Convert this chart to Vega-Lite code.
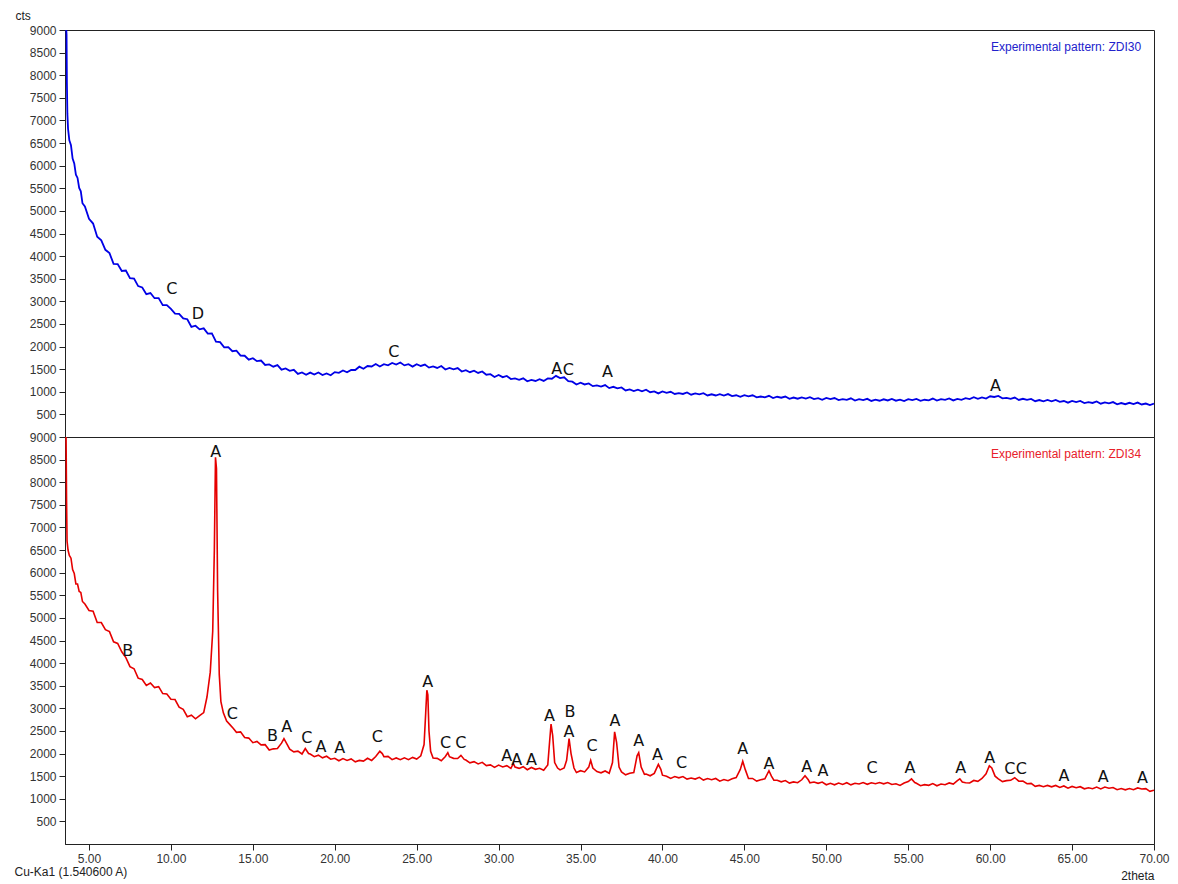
{
"$schema": "https://vega.github.io/schema/vega-lite/v6.json",
"padding": {"left": 14, "top": 8, "right": 10, "bottom": 2},
"background": "white",
"bounds": "flush",
"title": {"text": "Cu-Ka1 (1.540600 A)", "orient": "bottom", "anchor": "start", "offset": -15, "font": "Liberation Sans", "fontSize": 12, "fontWeight": "normal", "color": "#222"},
"config": {
 "view": {"stroke": "#222", "strokeWidth": 1},
 "concat": {"spacing": 0},
 "axis": {"labelFont": "Liberation Sans", "labelFontSize": 12, "labelColor": "#333", "titleFont": "Liberation Sans", "titleFontSize": 12, "titleFontWeight": "normal", "titleColor": "#222", "grid": false, "domainColor": "#222", "tickColor": "#222", "tickSize": 6, "labelPadding": 3, "labelOverlap": false},
 "legend": {"orient": "none", "title": null, "symbolSize": 0, "symbolOpacity": 0, "symbolStrokeWidth": 0, "labelOffset": 0, "padding": 0, "labelFont": "Liberation Sans", "labelFontSize": 12, "labelBaseline": "top"}
},
"resolve": {"scale": {"color": "independent"}},
"datasets": {
"zdi30": [
{"theta":3.56,"cts":9300},{"theta":3.63,"cts":8900},{"theta":3.65,"cts":7850},{"theta":3.68,"cts":7150},{"theta":3.72,"cts":6820},{"theta":3.8,"cts":6560},{"theta":3.9,"cts":6450},{"theta":4.0,"cts":6158},{"theta":4.1,"cts":6051},{"theta":4.2,"cts":5800},{"theta":4.3,"cts":5729},{"theta":4.4,"cts":5506},{"theta":4.5,"cts":5433},{"theta":4.6,"cts":5169},{"theta":4.75,"cts":5097},{"theta":5.0,"cts":4825},{"theta":5.25,"cts":4720},{"theta":5.5,"cts":4427},{"theta":5.75,"cts":4348},{"theta":6.0,"cts":4139},{"theta":6.25,"cts":4066},{"theta":6.5,"cts":3830},{"theta":6.75,"cts":3824},{"theta":7.0,"cts":3671},{"theta":7.25,"cts":3682},{"theta":7.5,"cts":3512},{"theta":7.75,"cts":3505},{"theta":8.0,"cts":3337},{"theta":8.25,"cts":3307},{"theta":8.5,"cts":3160},{"theta":8.75,"cts":3184},{"theta":9.0,"cts":3069},{"theta":9.25,"cts":3070},{"theta":9.5,"cts":2916},{"theta":9.75,"cts":2916},{"theta":10.0,"cts":2832},{"theta":10.25,"cts":2730},{"theta":10.5,"cts":2722},{"theta":10.75,"cts":2623},{"theta":11.0,"cts":2604},{"theta":11.25,"cts":2435},{"theta":11.5,"cts":2461},{"theta":11.75,"cts":2381},{"theta":12.0,"cts":2403},{"theta":12.25,"cts":2288},{"theta":12.5,"cts":2290},{"theta":12.75,"cts":2110},{"theta":13.0,"cts":2097},{"theta":13.25,"cts":1981},{"theta":13.5,"cts":1987},{"theta":13.75,"cts":1896},{"theta":14.0,"cts":1910},{"theta":14.25,"cts":1801},{"theta":14.5,"cts":1797},{"theta":14.75,"cts":1710},{"theta":15.0,"cts":1743},{"theta":15.25,"cts":1677},{"theta":15.5,"cts":1691},{"theta":15.75,"cts":1593},{"theta":16.0,"cts":1604},{"theta":16.25,"cts":1555},{"theta":16.5,"cts":1590},{"theta":16.75,"cts":1489},{"theta":17.0,"cts":1516},{"theta":17.25,"cts":1463},{"theta":17.5,"cts":1487},{"theta":17.75,"cts":1395},{"theta":18.0,"cts":1428},{"theta":18.25,"cts":1377},{"theta":18.5,"cts":1424},{"theta":18.75,"cts":1381},{"theta":19.0,"cts":1425},{"theta":19.25,"cts":1369},{"theta":19.5,"cts":1405},{"theta":19.75,"cts":1365},{"theta":20.0,"cts":1435},{"theta":20.25,"cts":1418},{"theta":20.5,"cts":1472},{"theta":20.75,"cts":1432},{"theta":21.0,"cts":1484},{"theta":21.25,"cts":1482},{"theta":21.5,"cts":1555},{"theta":21.75,"cts":1508},{"theta":22.0,"cts":1569},{"theta":22.25,"cts":1560},{"theta":22.5,"cts":1613},{"theta":22.75,"cts":1560},{"theta":23.0,"cts":1612},{"theta":23.25,"cts":1585},{"theta":23.5,"cts":1636},{"theta":23.75,"cts":1601},{"theta":24.0,"cts":1647},{"theta":24.25,"cts":1584},{"theta":24.5,"cts":1610},{"theta":24.75,"cts":1557},{"theta":25.0,"cts":1610},{"theta":25.25,"cts":1571},{"theta":25.5,"cts":1602},{"theta":25.75,"cts":1534},{"theta":26.0,"cts":1559},{"theta":26.25,"cts":1527},{"theta":26.5,"cts":1570},{"theta":26.75,"cts":1493},{"theta":27.0,"cts":1529},{"theta":27.25,"cts":1495},{"theta":27.5,"cts":1523},{"theta":27.75,"cts":1447},{"theta":28.0,"cts":1477},{"theta":28.25,"cts":1433},{"theta":28.5,"cts":1466},{"theta":28.75,"cts":1416},{"theta":29.0,"cts":1450},{"theta":29.25,"cts":1377},{"theta":29.5,"cts":1390},{"theta":29.75,"cts":1327},{"theta":30.0,"cts":1370},{"theta":30.25,"cts":1323},{"theta":30.5,"cts":1350},{"theta":30.75,"cts":1281},{"theta":31.0,"cts":1295},{"theta":31.25,"cts":1265},{"theta":31.5,"cts":1298},{"theta":31.75,"cts":1231},{"theta":32.0,"cts":1262},{"theta":32.25,"cts":1239},{"theta":32.5,"cts":1279},{"theta":32.75,"cts":1240},{"theta":33.0,"cts":1296},{"theta":33.25,"cts":1289},{"theta":33.5,"cts":1352},{"theta":33.75,"cts":1303},{"theta":34.0,"cts":1320},{"theta":34.25,"cts":1237},{"theta":34.5,"cts":1224},{"theta":34.75,"cts":1160},{"theta":35.0,"cts":1199},{"theta":35.25,"cts":1162},{"theta":35.5,"cts":1185},{"theta":35.75,"cts":1124},{"theta":36.0,"cts":1141},{"theta":36.25,"cts":1113},{"theta":36.5,"cts":1148},{"theta":36.75,"cts":1081},{"theta":37.0,"cts":1110},{"theta":37.25,"cts":1076},{"theta":37.5,"cts":1096},{"theta":37.75,"cts":1030},{"theta":38.0,"cts":1054},{"theta":38.25,"cts":1017},{"theta":38.5,"cts":1048},{"theta":38.75,"cts":1010},{"theta":39.0,"cts":1045},{"theta":39.25,"cts":990},{"theta":39.5,"cts":1009},{"theta":39.75,"cts":964},{"theta":40.0,"cts":1009},{"theta":40.25,"cts":977},{"theta":40.5,"cts":999},{"theta":40.75,"cts":952},{"theta":41.0,"cts":970},{"theta":41.25,"cts":952},{"theta":41.5,"cts":985},{"theta":41.75,"cts":935},{"theta":42.0,"cts":964},{"theta":42.25,"cts":943},{"theta":42.5,"cts":968},{"theta":42.75,"cts":919},{"theta":43.0,"cts":945},{"theta":43.25,"cts":918},{"theta":43.5,"cts":947},{"theta":43.75,"cts":918},{"theta":44.0,"cts":949},{"theta":44.25,"cts":905},{"theta":44.5,"cts":923},{"theta":44.75,"cts":887},{"theta":45.0,"cts":926},{"theta":45.25,"cts":899},{"theta":45.5,"cts":922},{"theta":45.75,"cts":876},{"theta":46.0,"cts":895},{"theta":46.25,"cts":878},{"theta":46.5,"cts":911},{"theta":46.75,"cts":861},{"theta":47.0,"cts":890},{"theta":47.25,"cts":869},{"theta":47.5,"cts":894},{"theta":47.75,"cts":846},{"theta":48.0,"cts":873},{"theta":48.25,"cts":847},{"theta":48.5,"cts":877},{"theta":48.75,"cts":849},{"theta":49.0,"cts":881},{"theta":49.25,"cts":838},{"theta":49.5,"cts":858},{"theta":49.75,"cts":822},{"theta":50.0,"cts":863},{"theta":50.25,"cts":837},{"theta":50.5,"cts":862},{"theta":50.75,"cts":817},{"theta":51.0,"cts":837},{"theta":51.25,"cts":821},{"theta":51.5,"cts":856},{"theta":51.75,"cts":807},{"theta":52.0,"cts":837},{"theta":52.25,"cts":817},{"theta":52.5,"cts":844},{"theta":52.75,"cts":797},{"theta":53.0,"cts":826},{"theta":53.25,"cts":802},{"theta":53.5,"cts":834},{"theta":53.75,"cts":808},{"theta":54.0,"cts":843},{"theta":54.25,"cts":803},{"theta":54.5,"cts":826},{"theta":54.75,"cts":793},{"theta":55.0,"cts":836},{"theta":55.25,"cts":814},{"theta":55.5,"cts":842},{"theta":55.75,"cts":801},{"theta":56.0,"cts":824},{"theta":56.25,"cts":811},{"theta":56.5,"cts":850},{"theta":56.75,"cts":804},{"theta":57.0,"cts":838},{"theta":57.25,"cts":822},{"theta":57.5,"cts":852},{"theta":57.75,"cts":809},{"theta":58.0,"cts":842},{"theta":58.25,"cts":823},{"theta":58.5,"cts":860},{"theta":58.75,"cts":840},{"theta":59.0,"cts":880},{"theta":59.25,"cts":846},{"theta":59.5,"cts":876},{"theta":59.75,"cts":850},{"theta":60.0,"cts":900},{"theta":60.25,"cts":885},{"theta":60.5,"cts":907},{"theta":60.75,"cts":855},{"theta":61.0,"cts":867},{"theta":61.25,"cts":844},{"theta":61.5,"cts":873},{"theta":61.75,"cts":819},{"theta":62.0,"cts":845},{"theta":62.25,"cts":821},{"theta":62.5,"cts":843},{"theta":62.75,"cts":792},{"theta":63.0,"cts":817},{"theta":63.25,"cts":789},{"theta":63.5,"cts":818},{"theta":63.75,"cts":789},{"theta":64.0,"cts":820},{"theta":64.25,"cts":776},{"theta":64.5,"cts":796},{"theta":64.75,"cts":759},{"theta":65.0,"cts":799},{"theta":65.25,"cts":772},{"theta":65.5,"cts":796},{"theta":65.75,"cts":751},{"theta":66.0,"cts":770},{"theta":66.25,"cts":753},{"theta":66.5,"cts":787},{"theta":66.75,"cts":737},{"theta":67.0,"cts":767},{"theta":67.25,"cts":746},{"theta":67.5,"cts":772},{"theta":67.75,"cts":724},{"theta":68.0,"cts":751},{"theta":68.25,"cts":725},{"theta":68.5,"cts":756},{"theta":68.75,"cts":728},{"theta":69.0,"cts":761},{"theta":69.25,"cts":719},{"theta":69.5,"cts":740},{"theta":69.75,"cts":705},{"theta":70.0,"cts":738}
],
"zdi34": [
{"theta":3.56,"cts":9400},{"theta":3.6,"cts":9000},{"theta":3.63,"cts":7600},{"theta":3.66,"cts":6700},{"theta":3.72,"cts":6500},{"theta":3.8,"cts":6380},{"theta":3.9,"cts":6320},{"theta":4.0,"cts":6068},{"theta":4.1,"cts":5981},{"theta":4.2,"cts":5750},{"theta":4.3,"cts":5749},{"theta":4.4,"cts":5586},{"theta":4.5,"cts":5563},{"theta":4.6,"cts":5364},{"theta":4.75,"cts":5307},{"theta":5.0,"cts":5165},{"theta":5.25,"cts":5150},{"theta":5.5,"cts":4897},{"theta":5.75,"cts":4898},{"theta":6.0,"cts":4739},{"theta":6.25,"cts":4696},{"theta":6.5,"cts":4470},{"theta":6.75,"cts":4434},{"theta":7.0,"cts":4251},{"theta":7.25,"cts":4122},{"theta":7.5,"cts":3922},{"theta":7.75,"cts":3875},{"theta":8.0,"cts":3667},{"theta":8.25,"cts":3637},{"theta":8.5,"cts":3505},{"theta":8.75,"cts":3559},{"theta":9.0,"cts":3459},{"theta":9.25,"cts":3480},{"theta":9.5,"cts":3326},{"theta":9.75,"cts":3316},{"theta":10.0,"cts":3202},{"theta":10.25,"cts":3195},{"theta":10.5,"cts":3027},{"theta":10.75,"cts":2977},{"theta":11.0,"cts":2815},{"theta":11.25,"cts":2849},{"theta":11.5,"cts":2769},{"theta":11.75,"cts":2840},{"theta":12.0,"cts":2906},{"theta":12.2,"cts":3250},{"theta":12.4,"cts":3800},{"theta":12.55,"cts":4700},{"theta":12.65,"cts":6500},{"theta":12.72,"cts":8550},{"theta":12.78,"cts":8300},{"theta":12.85,"cts":5600},{"theta":12.95,"cts":3750},{"theta":13.05,"cts":3150},{"theta":13.2,"cts":2900},{"theta":13.4,"cts":2720},{"theta":13.6,"cts":2640},{"theta":13.8,"cts":2560},{"theta":14.0,"cts":2470},{"theta":14.25,"cts":2480},{"theta":14.5,"cts":2356},{"theta":14.75,"cts":2342},{"theta":15.0,"cts":2240},{"theta":15.25,"cts":2268},{"theta":15.5,"cts":2192},{"theta":15.75,"cts":2196},{"theta":16.0,"cts":2078},{"theta":16.25,"cts":2104},{"theta":16.5,"cts":2110},{"theta":16.75,"cts":2230},{"theta":16.9,"cts":2330},{"theta":17.1,"cts":2200},{"theta":17.25,"cts":2096},{"theta":17.5,"cts":2038},{"theta":17.75,"cts":2052},{"theta":18.0,"cts":1990},{"theta":18.2,"cts":2110},{"theta":18.4,"cts":2000},{"theta":18.5,"cts":1988},{"theta":18.75,"cts":1932},{"theta":19.0,"cts":1964},{"theta":19.25,"cts":1906},{"theta":19.5,"cts":1940},{"theta":19.75,"cts":1874},{"theta":20.0,"cts":1895},{"theta":20.25,"cts":1840},{"theta":20.5,"cts":1890},{"theta":20.75,"cts":1848},{"theta":21.0,"cts":1882},{"theta":21.25,"cts":1817},{"theta":21.5,"cts":1849},{"theta":21.75,"cts":1832},{"theta":22.0,"cts":1895},{"theta":22.25,"cts":1848},{"theta":22.5,"cts":1934},{"theta":22.75,"cts":2050},{"theta":22.9,"cts":2000},{"theta":23.0,"cts":1930},{"theta":23.25,"cts":1938},{"theta":23.5,"cts":1865},{"theta":23.75,"cts":1902},{"theta":24.0,"cts":1865},{"theta":24.25,"cts":1906},{"theta":24.5,"cts":1866},{"theta":24.75,"cts":1915},{"theta":25.0,"cts":1879},{"theta":25.25,"cts":1950},{"theta":25.45,"cts":2200},{"theta":25.55,"cts":2900},{"theta":25.62,"cts":3400},{"theta":25.68,"cts":3300},{"theta":25.75,"cts":2500},{"theta":25.85,"cts":2050},{"theta":26.0,"cts":1902},{"theta":26.25,"cts":1894},{"theta":26.5,"cts":1842},{"theta":26.75,"cts":1935},{"theta":26.9,"cts":2020},{"theta":27.0,"cts":1930},{"theta":27.25,"cts":1894},{"theta":27.5,"cts":1890},{"theta":27.7,"cts":1960},{"theta":27.9,"cts":1870},{"theta":28.0,"cts":1857},{"theta":28.25,"cts":1795},{"theta":28.5,"cts":1821},{"theta":28.75,"cts":1771},{"theta":29.0,"cts":1805},{"theta":29.25,"cts":1734},{"theta":29.5,"cts":1750},{"theta":29.75,"cts":1695},{"theta":30.0,"cts":1745},{"theta":30.25,"cts":1703},{"theta":30.5,"cts":1732},{"theta":30.75,"cts":1672},{"theta":30.9,"cts":1780},{"theta":31.0,"cts":1700},{"theta":31.25,"cts":1672},{"theta":31.5,"cts":1710},{"theta":31.75,"cts":1643},{"theta":32.0,"cts":1692},{"theta":32.25,"cts":1651},{"theta":32.5,"cts":1674},{"theta":32.75,"cts":1630},{"theta":33.0,"cts":1750},{"theta":33.12,"cts":2300},{"theta":33.2,"cts":2650},{"theta":33.3,"cts":2400},{"theta":33.42,"cts":1800},{"theta":33.6,"cts":1680},{"theta":33.75,"cts":1638},{"theta":34.0,"cts":1680},{"theta":34.15,"cts":1850},{"theta":34.3,"cts":2330},{"theta":34.42,"cts":2000},{"theta":34.6,"cts":1680},{"theta":34.75,"cts":1580},{"theta":35.0,"cts":1621},{"theta":35.25,"cts":1594},{"theta":35.5,"cts":1700},{"theta":35.62,"cts":1850},{"theta":35.75,"cts":1680},{"theta":36.0,"cts":1603},{"theta":36.25,"cts":1575},{"theta":36.5,"cts":1615},{"theta":36.75,"cts":1563},{"theta":36.95,"cts":1800},{"theta":37.08,"cts":2480},{"theta":37.2,"cts":2250},{"theta":37.35,"cts":1700},{"theta":37.5,"cts":1594},{"theta":37.75,"cts":1530},{"theta":38.0,"cts":1566},{"theta":38.25,"cts":1580},{"theta":38.45,"cts":1950},{"theta":38.55,"cts":2020},{"theta":38.7,"cts":1700},{"theta":38.9,"cts":1540},{"theta":39.0,"cts":1548},{"theta":39.25,"cts":1508},{"theta":39.5,"cts":1560},{"theta":39.75,"cts":1760},{"theta":39.9,"cts":1650},{"theta":40.0,"cts":1522},{"theta":40.25,"cts":1499},{"theta":40.5,"cts":1450},{"theta":40.75,"cts":1491},{"theta":41.0,"cts":1464},{"theta":41.25,"cts":1492},{"theta":41.5,"cts":1436},{"theta":41.75,"cts":1458},{"theta":42.0,"cts":1435},{"theta":42.25,"cts":1475},{"theta":42.5,"cts":1413},{"theta":42.75,"cts":1447},{"theta":43.0,"cts":1421},{"theta":43.25,"cts":1449},{"theta":43.5,"cts":1390},{"theta":43.75,"cts":1426},{"theta":44.0,"cts":1399},{"theta":44.25,"cts":1443},{"theta":44.5,"cts":1470},{"theta":44.75,"cts":1650},{"theta":44.9,"cts":1830},{"theta":45.05,"cts":1650},{"theta":45.25,"cts":1450},{"theta":45.5,"cts":1450},{"theta":45.75,"cts":1392},{"theta":46.0,"cts":1419},{"theta":46.25,"cts":1440},{"theta":46.5,"cts":1620},{"theta":46.65,"cts":1500},{"theta":46.8,"cts":1410},{"theta":47.0,"cts":1411},{"theta":47.25,"cts":1374},{"theta":47.5,"cts":1402},{"theta":47.75,"cts":1346},{"theta":48.0,"cts":1373},{"theta":48.25,"cts":1355},{"theta":48.5,"cts":1420},{"theta":48.7,"cts":1510},{"theta":48.9,"cts":1420},{"theta":49.0,"cts":1353},{"theta":49.25,"cts":1372},{"theta":49.5,"cts":1341},{"theta":49.75,"cts":1369},{"theta":50.0,"cts":1310},{"theta":50.25,"cts":1341},{"theta":50.5,"cts":1309},{"theta":50.75,"cts":1348},{"theta":51.0,"cts":1318},{"theta":51.25,"cts":1355},{"theta":51.5,"cts":1308},{"theta":51.75,"cts":1342},{"theta":52.0,"cts":1327},{"theta":52.25,"cts":1360},{"theta":52.5,"cts":1320},{"theta":52.75,"cts":1355},{"theta":53.0,"cts":1332},{"theta":53.25,"cts":1360},{"theta":53.5,"cts":1330},{"theta":53.75,"cts":1360},{"theta":54.0,"cts":1315},{"theta":54.25,"cts":1333},{"theta":54.5,"cts":1295},{"theta":54.75,"cts":1348},{"theta":55.0,"cts":1380},{"theta":55.2,"cts":1440},{"theta":55.4,"cts":1360},{"theta":55.5,"cts":1342},{"theta":55.75,"cts":1290},{"theta":56.0,"cts":1312},{"theta":56.25,"cts":1298},{"theta":56.5,"cts":1335},{"theta":56.75,"cts":1288},{"theta":57.0,"cts":1325},{"theta":57.25,"cts":1312},{"theta":57.5,"cts":1350},{"theta":57.75,"cts":1325},{"theta":58.0,"cts":1400},{"theta":58.15,"cts":1440},{"theta":58.3,"cts":1370},{"theta":58.5,"cts":1355},{"theta":58.75,"cts":1350},{"theta":59.0,"cts":1405},{"theta":59.25,"cts":1385},{"theta":59.5,"cts":1448},{"theta":59.75,"cts":1550},{"theta":59.95,"cts":1730},{"theta":60.1,"cts":1680},{"theta":60.3,"cts":1500},{"theta":60.5,"cts":1442},{"theta":60.75,"cts":1380},{"theta":61.0,"cts":1402},{"theta":61.25,"cts":1408},{"theta":61.5,"cts":1465},{"theta":61.75,"cts":1388},{"theta":62.0,"cts":1390},{"theta":62.25,"cts":1332},{"theta":62.5,"cts":1340},{"theta":62.75,"cts":1275},{"theta":63.0,"cts":1295},{"theta":63.25,"cts":1267},{"theta":63.5,"cts":1295},{"theta":63.75,"cts":1265},{"theta":64.0,"cts":1295},{"theta":64.25,"cts":1250},{"theta":64.5,"cts":1283},{"theta":64.75,"cts":1235},{"theta":65.0,"cts":1273},{"theta":65.25,"cts":1245},{"theta":65.5,"cts":1267},{"theta":65.75,"cts":1220},{"theta":66.0,"cts":1242},{"theta":66.25,"cts":1223},{"theta":66.5,"cts":1260},{"theta":66.75,"cts":1218},{"theta":67.0,"cts":1260},{"theta":67.25,"cts":1232},{"theta":67.5,"cts":1250},{"theta":67.75,"cts":1200},{"theta":68.0,"cts":1225},{"theta":68.25,"cts":1197},{"theta":68.5,"cts":1225},{"theta":68.75,"cts":1200},{"theta":69.0,"cts":1240},{"theta":69.25,"cts":1215},{"theta":69.5,"cts":1223},{"theta":69.75,"cts":1165},{"theta":70.0,"cts":1190}
],
"lab30": [
{"theta":10.06,"cts":3280,"label":"C"},{"theta":11.65,"cts":2727,"label":"D"},{"theta":23.6,"cts":1880,"label":"C"},{"theta":33.55,"cts":1510,"label":"A"},{"theta":34.25,"cts":1490,"label":"C"},{"theta":36.65,"cts":1435,"label":"A"},{"theta":60.33,"cts":1135,"label":"A"}
],
"lab34": [
{"theta":7.36,"cts":4268,"label":"B"},{"theta":12.73,"cts":8672,"label":"A"},{"theta":13.75,"cts":2875,"label":"C"},{"theta":16.2,"cts":2388,"label":"B"},{"theta":17.06,"cts":2587,"label":"A"},{"theta":18.3,"cts":2344,"label":"C"},{"theta":19.15,"cts":2145,"label":"A"},{"theta":20.3,"cts":2123,"label":"A"},{"theta":22.6,"cts":2366,"label":"C"},{"theta":25.67,"cts":3582,"label":"A"},{"theta":26.77,"cts":2234,"label":"C"},{"theta":27.7,"cts":2234,"label":"C"},{"theta":30.5,"cts":1946,"label":"A"},{"theta":31.1,"cts":1858,"label":"A"},{"theta":32.0,"cts":1858,"label":"A"},{"theta":33.1,"cts":2831,"label":"A"},{"theta":34.35,"cts":2919,"label":"B"},{"theta":34.3,"cts":2477,"label":"A"},{"theta":35.7,"cts":2167,"label":"C"},{"theta":37.1,"cts":2720,"label":"A"},{"theta":38.55,"cts":2278,"label":"A"},{"theta":39.7,"cts":1968,"label":"A"},{"theta":41.17,"cts":1791,"label":"C"},{"theta":44.9,"cts":2101,"label":"A"},{"theta":46.5,"cts":1769,"label":"A"},{"theta":48.8,"cts":1703,"label":"A"},{"theta":49.8,"cts":1614,"label":"A"},{"theta":52.8,"cts":1681,"label":"C"},{"theta":55.1,"cts":1681,"label":"A"},{"theta":58.2,"cts":1681,"label":"A"},{"theta":59.97,"cts":1902,"label":"A"},{"theta":61.2,"cts":1659,"label":"C"},{"theta":61.9,"cts":1659,"label":"C"},{"theta":64.5,"cts":1504,"label":"A"},{"theta":66.9,"cts":1482,"label":"A"},{"theta":69.3,"cts":1460,"label":"A"}
]
},
"vconcat": [
{
 "width": 1089, "height": 407,
 "layer": [
  {"data": {"name": "zdi30"},
   "mark": {"type": "line", "clip": true, "strokeWidth": 1.8},
   "encoding": {
    "x": {"field": "theta", "type": "quantitative", "scale": {"domain": [3.535, 70], "nice": false, "zero": false}, "axis": null},
    "y": {"field": "cts", "type": "quantitative", "scale": {"domain": [0, 9000], "nice": false}, "axis": {"values": [500,1000,1500,2000,2500,3000,3500,4000,4500,5000,5500,6000,6500,7000,7500,8000,8500,9000], "tickCount": 40, "format": "d", "labelOverlap": false, "labelSeparation": 0, "labelFlush": false, "title": "cts", "titleAngle": 0, "titleX": -50, "titleY": -15, "titleAlign": "left", "titleBaseline": "middle"}},
    "color": {"datum": "Experimental pattern: ZDI30", "scale": {"range": ["#0000e6"]}, "legend": {"legendX": 914, "legendY": 6, "labelColor": "#2222cc"}}
   }},
  {"data": {"name": "lab30"},
   "mark": {"type": "text", "font": "DejaVu Sans", "fontSize": 16, "baseline": "middle", "color": "#111"},
   "encoding": {
    "x": {"field": "theta", "type": "quantitative"},
    "y": {"field": "cts", "type": "quantitative"},
    "text": {"field": "label"}
   }}
 ]
},
{
 "width": 1089, "height": 407,
 "layer": [
  {"data": {"name": "zdi34"},
   "mark": {"type": "line", "clip": true, "strokeWidth": 1.6},
   "encoding": {
    "x": {"field": "theta", "type": "quantitative", "scale": {"domain": [3.535, 70], "nice": false, "zero": false}, "axis": {"values": [5,10,15,20,25,30,35,40,45,50,55,60,65,70], "tickCount": 30, "format": ".2f", "labelOverlap": false, "labelFlush": false, "title": "2theta", "titleAnchor": "end", "titleAlign": "right", "titlePadding": 6, "labelPadding": 3}},
    "y": {"field": "cts", "type": "quantitative", "scale": {"domain": [0, 9000], "nice": false}, "axis": {"values": [500,1000,1500,2000,2500,3000,3500,4000,4500,5000,5500,6000,6500,7000,7500,8000,8500,9000], "tickCount": 40, "format": "d", "labelOverlap": false, "labelSeparation": 0, "labelFlush": false, "title": null}},
    "color": {"datum": "Experimental pattern: ZDI34", "scale": {"range": ["#e60000"]}, "legend": {"legendX": 914, "legendY": 6, "labelColor": "#e8202a"}}
   }},
  {"data": {"name": "lab34"},
   "mark": {"type": "text", "font": "DejaVu Sans", "fontSize": 16, "baseline": "middle", "color": "#111"},
   "encoding": {
    "x": {"field": "theta", "type": "quantitative"},
    "y": {"field": "cts", "type": "quantitative"},
    "text": {"field": "label"}
   }}
 ]
}
]
}
